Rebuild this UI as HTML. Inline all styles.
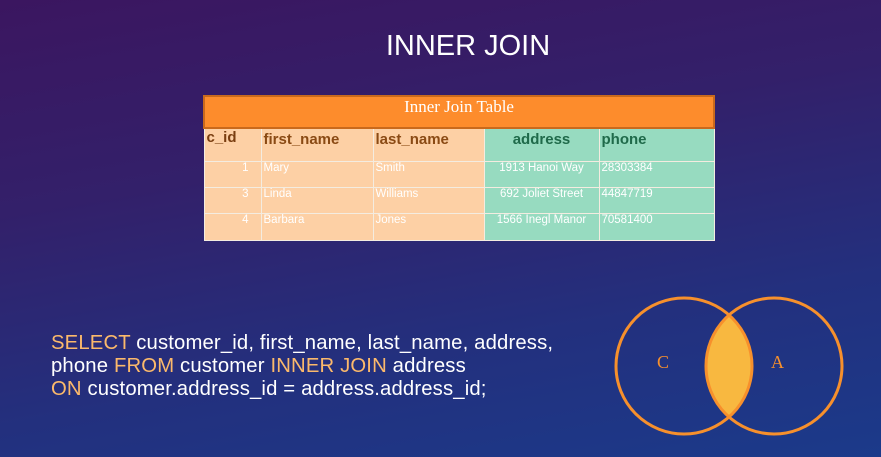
<!DOCTYPE html>
<html><head><style>
body{margin:0;width:881px;height:457px;overflow:hidden;position:relative;font-family:"Liberation Sans",sans-serif;
background:linear-gradient(170deg,#3b1660 0%,#33206a 35%,#23307e 70%,#1b3a8a 100%);}
.t{position:absolute;left:0;width:936px;top:30px;text-align:center;color:#fff;font-size:29px;}
table{position:absolute;left:203px;top:95px;border-collapse:collapse;width:510px;table-layout:fixed}
td{border:1px solid #f4ece0;font-size:11.5px;color:#fff;padding:0 2px;vertical-align:top;overflow:hidden;white-space:nowrap}
.h td{font-size:15px;font-weight:bold;height:30px;vertical-align:top;padding-top:2px}
.p{background:#fdd0a5}.g{background:#97dbc0}
.sql{position:absolute;left:51px;top:332px;font-size:20.3px;line-height:23px;color:#fff;font-family:"Liberation Sans",sans-serif;letter-spacing:0.15px}
.o{color:#fbb96b}
</style></head><body>
<div class="t">INNER JOIN</div>
<table>
<colgroup><col style="width:57px"><col style="width:112px"><col style="width:111px"><col style="width:115px"><col style="width:115px"></colgroup>
<tr><td colspan="5" style="background:#fd8c2c;border:2px solid #c9691c;height:30px;text-align:center;font-family:'Liberation Serif',serif;font-size:17px;vertical-align:top;padding-top:0">Inner Join Table</td></tr>
<tr class="h"><td class="p" style="color:#7a3e10;padding-top:0">c_id</td><td class="p" style="color:#8a4a14">first_name</td><td class="p" style="color:#8a4a14">last_name</td><td class="g" style="color:#1f6a4a;text-align:center">address</td><td class="g" style="color:#1f6a4a">phone</td></tr>
<tr style="height:26px"><td class="p" style="text-align:right;padding-right:12px">1</td><td class="p">Mary</td><td class="p">Smith</td><td class="g" style="text-align:center">1913 Hanoi Way</td><td class="g">28303384</td></tr>
<tr style="height:26px"><td class="p" style="text-align:right;padding-right:12px">3</td><td class="p">Linda</td><td class="p">Williams</td><td class="g" style="text-align:center">692 Joliet Street</td><td class="g">44847719</td></tr>
<tr style="height:27px"><td class="p" style="text-align:right;padding-right:12px">4</td><td class="p">Barbara</td><td class="p">Jones</td><td class="g" style="text-align:center">1566 Inegl Manor</td><td class="g">70581400</td></tr>
</table>
<div class="sql"><span class="o">SELECT</span> customer_id, first_name, last_name, address,<br>phone <span class="o">FROM</span> customer <span class="o">INNER JOIN</span> address<br><span class="o">ON</span> customer.address_id = address.address_id;</div>
<svg style="position:absolute;left:0;top:0" width="881" height="457">
<defs><clipPath id="c"><circle cx="684" cy="366" r="68"/></clipPath></defs>
<circle cx="774" cy="366" r="68" fill="#f8b840" clip-path="url(#c)"/>
<circle cx="684" cy="366" r="68" fill="none" stroke="#f7902c" stroke-width="3"/>
<circle cx="774" cy="366" r="68" fill="none" stroke="#f7902c" stroke-width="3"/>
<text x="657" y="368" font-family="Liberation Serif,serif" font-size="18" fill="#f7902c">C</text>
<text x="771" y="368" font-family="Liberation Serif,serif" font-size="18" fill="#f7902c">A</text>
</svg>
</body></html>
